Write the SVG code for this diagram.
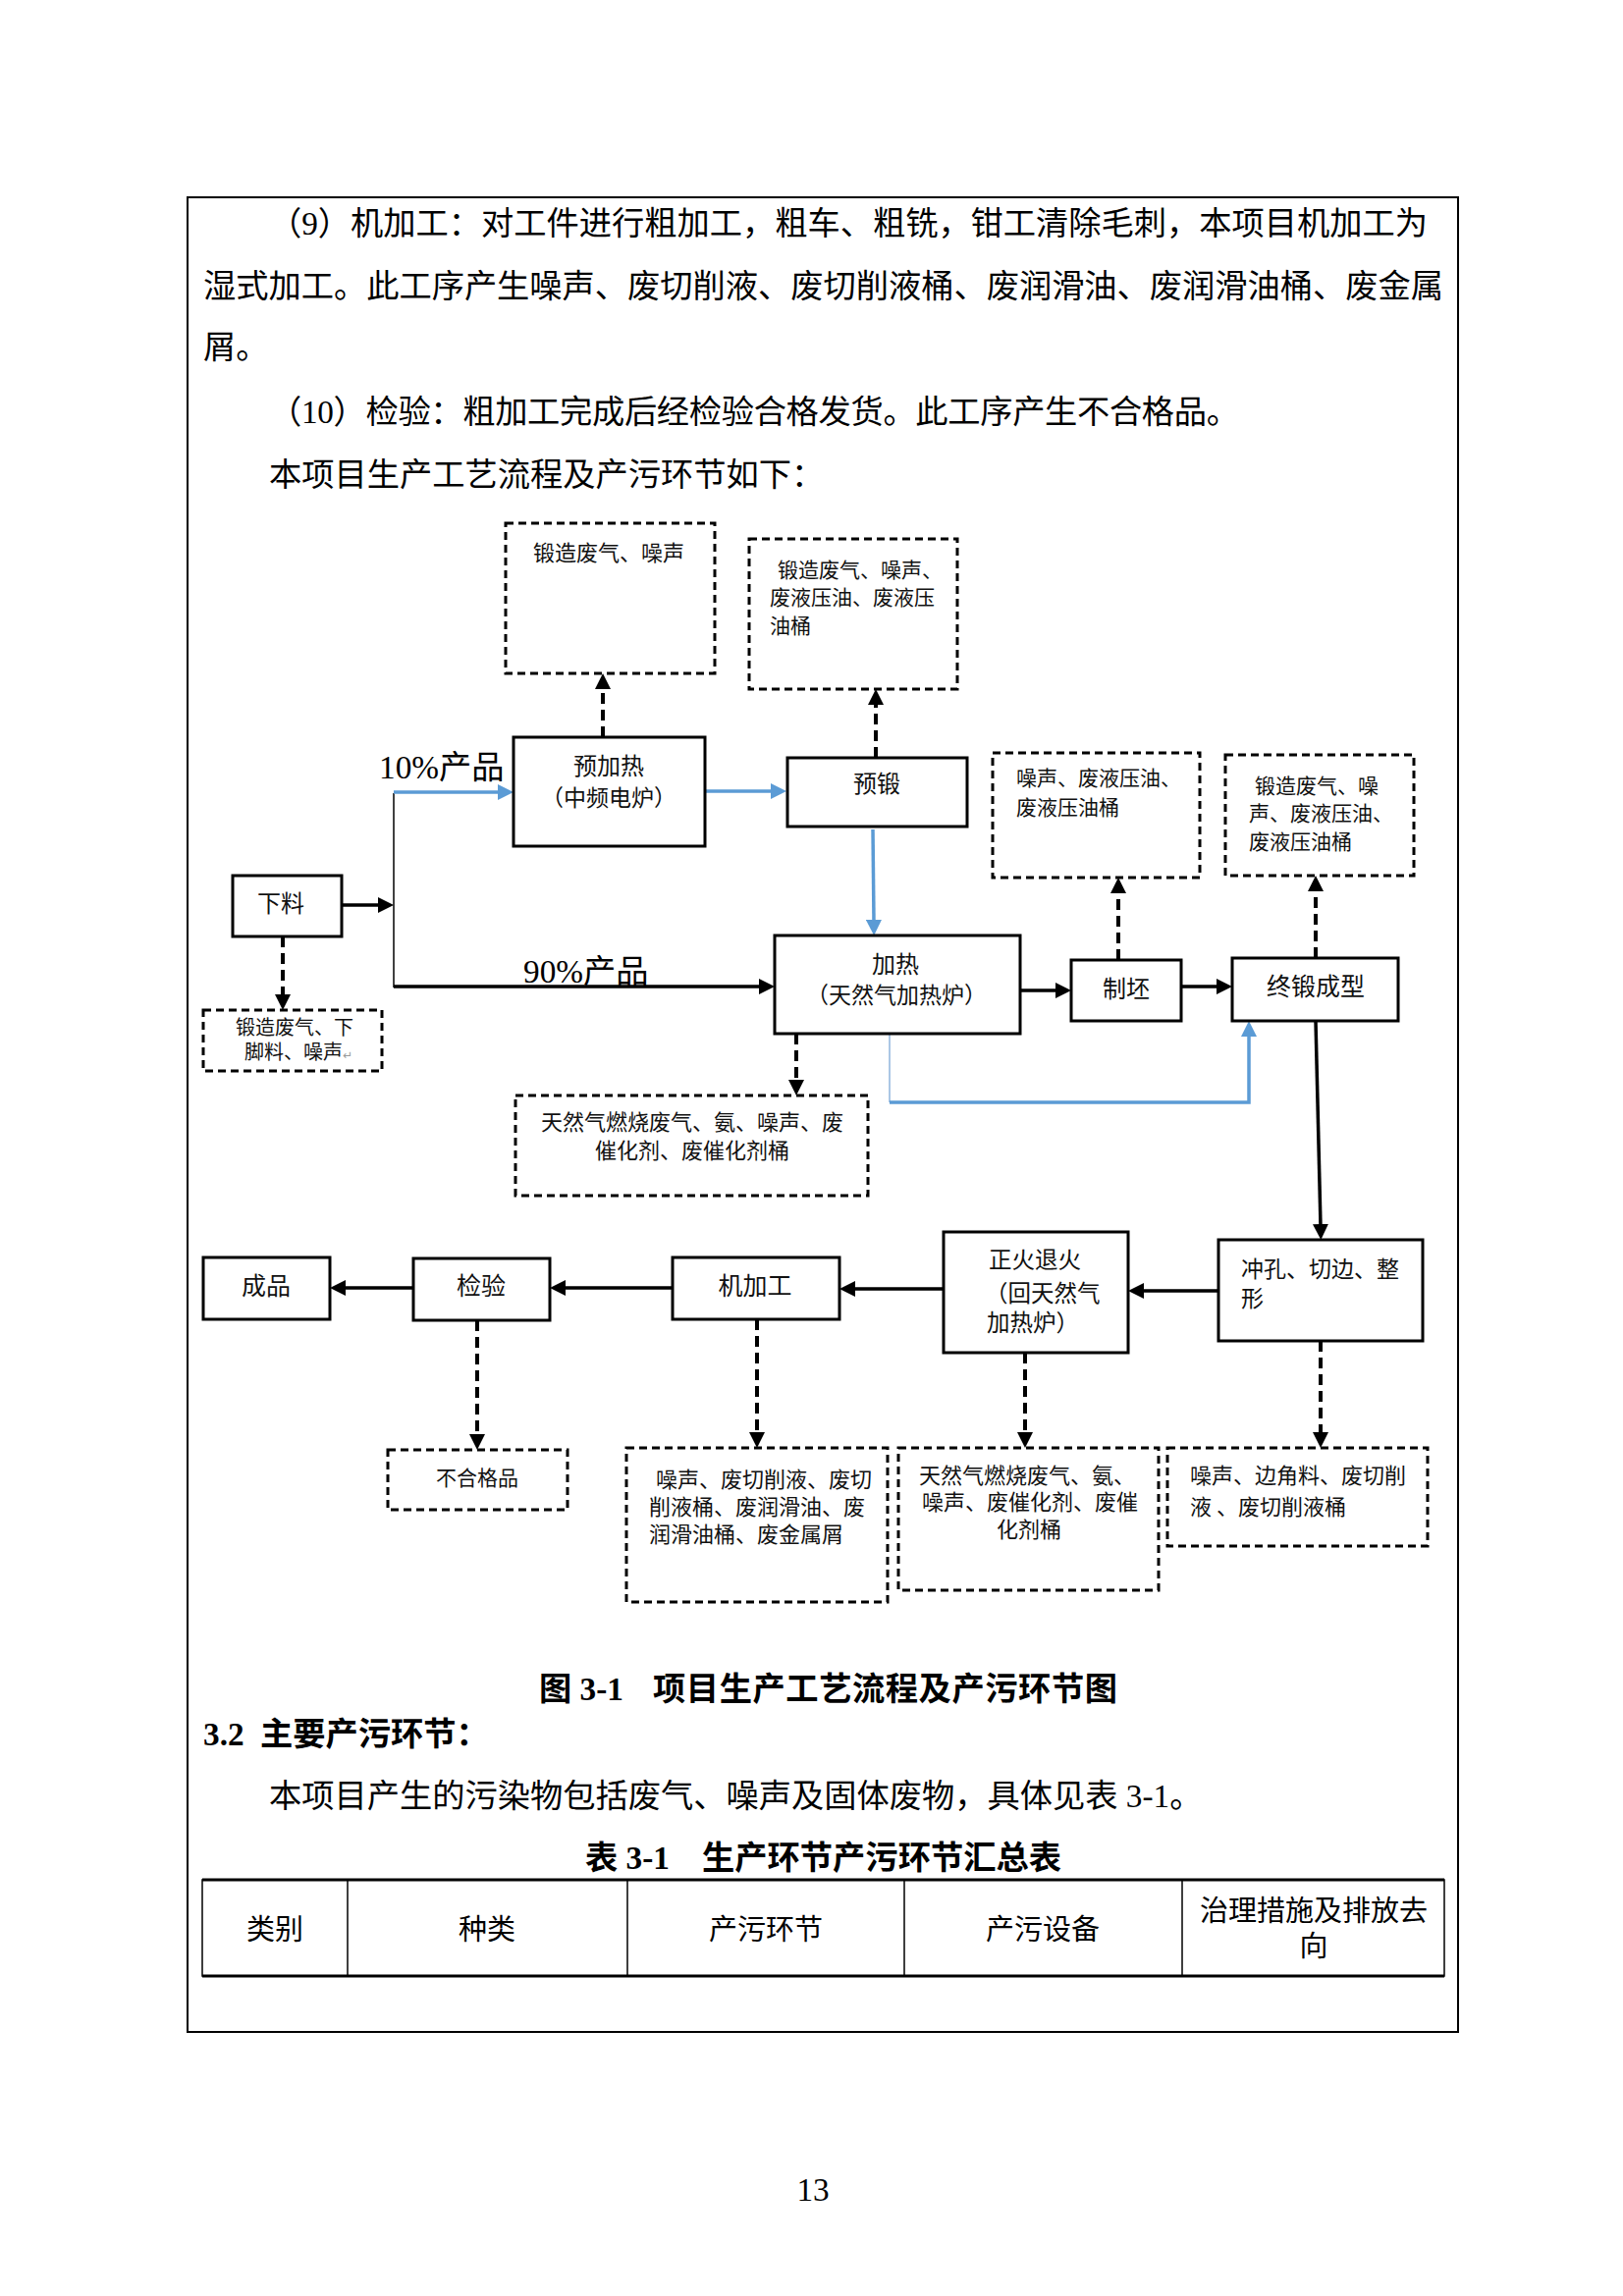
<svg xmlns="http://www.w3.org/2000/svg" width="1653" height="2339" viewBox="0 0 1653 2339">
<style>
.t{font-family:"Liberation Serif","Noto Sans CJK SC",serif;font-size:33.25px;fill:#000}
.b{font-weight:bold}
.h{font-family:"Liberation Serif","Noto Sans CJK SC",serif;font-size:29px;fill:#000}
.d{font-family:"Noto Sans CJK SC",sans-serif;fill:#111}
.box{fill:#fff;stroke:#000;stroke-width:3}
.dbox{fill:#fff;stroke:#000;stroke-width:3;stroke-dasharray:8 5}
.c{stroke:#000;stroke-width:3.5;fill:none}
.dl{stroke:#000;stroke-width:4;fill:none;stroke-dasharray:11 6}
.bl{stroke:#5B9BD5;stroke-width:3.5;fill:none}
.tl{stroke-width:1.5;fill:none}
</style>
<defs>
<marker id="ak" markerUnits="userSpaceOnUse" markerWidth="16" markerHeight="16" refX="2" refY="8" orient="auto"><path d="M0,0 L16,8 L0,16 z" fill="#000"/></marker>
<marker id="ab" markerUnits="userSpaceOnUse" markerWidth="16" markerHeight="16" refX="2" refY="8" orient="auto"><path d="M0,0 L16,8 L0,16 z" fill="#5B9BD5"/></marker>
</defs>
<rect width="1653" height="2339" fill="#fff"/>
<rect x="191" y="201" width="1294" height="1869" fill="none" stroke="#000" stroke-width="2"/>
<g id="body-text">
<text class="t" x="274" y="239" textLength="1180" lengthAdjust="spacing">（9）机加工：对工件进行粗加工，粗车、粗铣，钳工清除毛刺，本项目机加工为</text>
<text class="t" x="207" y="303" textLength="1263" lengthAdjust="spacing">湿式加工。此工序产生噪声、废切削液、废切削液桶、废润滑油、废润滑油桶、废金属</text>
<text class="t" x="207" y="365">屑。</text>
<text class="t" x="274" y="431" textLength="988" lengthAdjust="spacing">（10）检验：粗加工完成后经检验合格发货。此工序产生不合格品。</text>
<text class="t" x="274" y="495">本项目生产工艺流程及产污环节如下：</text>
</g>
<g id="connectors">
<line class="c" x1="348" y1="922" x2="387" y2="922" marker-end="url(#ak)"/>
<line class="c tl" x1="401" y1="808" x2="401" y2="1006"/>
<line class="bl" x1="401" y1="807" x2="509" y2="807" marker-end="url(#ab)"/>
<line class="bl" x1="718" y1="806" x2="787" y2="806" marker-end="url(#ab)"/>
<line class="bl" x1="889" y1="845" x2="890" y2="939" marker-end="url(#ab)"/>
<line class="c" x1="401" y1="1005" x2="775" y2="1005" stroke-width="4" marker-end="url(#ak)"/>
<line class="c" x1="1039" y1="1009" x2="1077" y2="1009" stroke-width="4" marker-end="url(#ak)"/>
<line class="c" x1="1203" y1="1005" x2="1241" y2="1005" marker-end="url(#ak)"/>
<line x1="906" y1="1053" x2="906" y2="1123" stroke="#8FB4DC" stroke-width="1.5"/>
<polyline class="bl" points="906,1123 1272,1123 1272,1054" marker-end="url(#ab)"/>
<line class="c" x1="1340" y1="1040" x2="1345" y2="1249" marker-end="url(#ak)"/>
<line class="c" x1="1241" y1="1315" x2="1163" y2="1315" marker-end="url(#ak)"/>
<line class="c" x1="961" y1="1313" x2="869" y2="1313" marker-end="url(#ak)"/>
<line class="c" x1="685" y1="1312" x2="574" y2="1312" marker-end="url(#ak)"/>
<line class="c" x1="421" y1="1312" x2="350" y2="1312" marker-end="url(#ak)"/>
<line class="dl" x1="614" y1="751" x2="614" y2="700" marker-end="url(#ak)"/>
<line class="dl" x1="892" y1="772" x2="892" y2="716" marker-end="url(#ak)"/>
<line class="dl" x1="288" y1="954" x2="288" y2="1015" marker-end="url(#ak)"/>
<line class="dl" x1="811" y1="1053" x2="811" y2="1102" marker-end="url(#ak)"/>
<line class="dl" x1="1139" y1="978" x2="1139" y2="908" marker-end="url(#ak)"/>
<line class="dl" x1="1340" y1="976" x2="1340" y2="906" marker-end="url(#ak)"/>
<line class="dl" x1="486" y1="1345" x2="486" y2="1463" marker-end="url(#ak)"/>
<line class="dl" x1="771" y1="1344" x2="771" y2="1461" marker-end="url(#ak)"/>
<line class="dl" x1="1044" y1="1378" x2="1044" y2="1461" marker-end="url(#ak)"/>
<line class="dl" x1="1345" y1="1366" x2="1345" y2="1461" marker-end="url(#ak)"/>
<text class="t" x="386" y="793" font-size="31">10%产品</text>
<text class="t" x="533" y="1001" font-size="32">90%产品</text>
</g>
<g id="n-yujiare-out">
<rect class="dbox" x="515" y="533" width="213" height="153"/>
<text class="d" x="543" y="571" font-size="22">锻造废气、噪声</text>
</g>
<g id="n-yuduan-out">
<rect class="dbox" x="763" y="549" width="212" height="153"/>
<text class="d" font-size="21"><tspan x="792" y="588">锻造废气、噪声、</tspan><tspan x="784" y="616">废液压油、废液压</tspan><tspan x="784" y="645">油桶</tspan></text>
</g>
<g id="n-yujiare">
<rect class="box" x="523" y="751" width="195" height="111"/>
<text class="d" text-anchor="middle" font-size="24"><tspan x="620" y="789">预加热</tspan><tspan x="620" y="821" font-size="23">（中频电炉）</tspan></text>
</g>
<g id="n-yuduan">
<rect class="box" x="802" y="772" width="183" height="70"/>
<text class="d" x="893" y="807" text-anchor="middle" font-size="24">预锻</text>
</g>
<g id="n-zhipi-out">
<rect class="dbox" x="1011" y="767" width="211" height="127"/>
<text class="d" font-size="21"><tspan x="1035" y="800">噪声、废液压油、</tspan><tspan x="1035" y="830">废液压油桶</tspan></text>
</g>
<g id="n-zhongduan-out">
<rect class="dbox" x="1248" y="769" width="192" height="123"/>
<text class="d" font-size="21"><tspan x="1278" y="808">锻造废气、噪</tspan><tspan x="1272" y="836">声、废液压油、</tspan><tspan x="1272" y="865">废液压油桶</tspan></text>
</g>
<g id="n-xialiao">
<rect class="box" x="237" y="892" width="111" height="62"/>
<text class="d" x="286" y="929" text-anchor="middle" font-size="24">下料</text>
</g>
<g id="n-xialiao-out">
<rect class="dbox" x="207" y="1029" width="182" height="62"/>
<text class="d" font-size="20"><tspan x="240" y="1054">锻造废气、下</tspan><tspan x="249" y="1079">脚料、噪声<tspan font-family="DejaVu Sans" font-size="12" fill="#999">↵</tspan></tspan></text>
</g>
<g id="n-jiare">
<rect class="box" x="789" y="953" width="250" height="100"/>
<text class="d" text-anchor="middle" font-size="23"><tspan x="912" y="991" font-size="24">加热</tspan><tspan x="913" y="1022">（天然气加热炉）</tspan></text>
</g>
<g id="n-jiare-out">
<rect class="dbox" x="525" y="1116" width="359" height="102"/>
<text class="d" text-anchor="middle" font-size="22"><tspan x="705" y="1151">天然气燃烧废气、氨、噪声、废</tspan><tspan x="705" y="1180">催化剂、废催化剂桶</tspan></text>
</g>
<g id="n-zhipi">
<rect class="box" x="1091" y="978" width="112" height="62"/>
<text class="d" x="1147" y="1016" text-anchor="middle" font-size="24">制坯</text>
</g>
<g id="n-zhongduan">
<rect class="box" x="1255" y="976" width="169" height="64"/>
<text class="d" x="1340" y="1014" text-anchor="middle" font-size="25">终锻成型</text>
</g>
<g id="n-chongkong">
<rect class="box" x="1241" y="1263" width="208" height="103"/>
<text class="d" font-size="23"><tspan x="1264" y="1301">冲孔、切边、整</tspan><tspan x="1264" y="1331">形</tspan></text>
</g>
<g id="n-zhenghuo">
<rect class="box" x="961" y="1255" width="188" height="123"/>
<text class="d" font-size="23.5"><tspan x="1007" y="1292">正火退火</tspan><tspan x="1003" y="1326">（回天然气</tspan><tspan x="1005" y="1356">加热炉）</tspan></text>
</g>
<g id="n-jijiagong">
<rect class="box" x="685" y="1281" width="170" height="63"/>
<text class="d" x="769" y="1319" text-anchor="middle" font-size="25">机加工</text>
</g>
<g id="n-jianyan">
<rect class="box" x="421" y="1282" width="139" height="63"/>
<text class="d" x="490" y="1319" text-anchor="middle" font-size="25">检验</text>
</g>
<g id="n-chengpin">
<rect class="box" x="207" y="1281" width="129" height="63"/>
<text class="d" x="271" y="1319" text-anchor="middle" font-size="25">成品</text>
</g>
<g id="n-buhege">
<rect class="dbox" x="395" y="1477" width="183" height="61"/>
<text class="d" x="486" y="1513" text-anchor="middle" font-size="21">不合格品</text>
</g>
<g id="n-jijiagong-out">
<rect class="dbox" x="638" y="1475" width="266" height="157"/>
<text class="d" font-size="22"><tspan x="668" y="1515">噪声、废切削液、废切</tspan><tspan x="661" y="1543">削液桶、废润滑油、废</tspan><tspan x="661" y="1571">润滑油桶、废金属屑</tspan></text>
</g>
<g id="n-zhenghuo-out">
<rect class="dbox" x="915" y="1475" width="265" height="145"/>
<text class="d" text-anchor="middle" font-size="22"><tspan x="1046" y="1511">天然气燃烧废气、氨、</tspan><tspan x="1049" y="1538">噪声、废催化剂、废催</tspan><tspan x="1048" y="1566">化剂桶</tspan></text>
</g>
<g id="n-chongkong-out">
<rect class="dbox" x="1189" y="1475" width="265" height="100"/>
<text class="d" font-size="22"><tspan x="1212" y="1511">噪声、边角料、废切削</tspan><tspan x="1212" y="1543">液 、废切削液桶</tspan></text>
</g>
<g id="lower-text">
<text class="t b" y="1732"><tspan x="549">图 3-1</tspan><tspan x="665" textLength="473" lengthAdjust="spacing">项目生产工艺流程及产污环节图</tspan></text>
<text class="t b" y="1778"><tspan x="207">3.2</tspan><tspan x="265">主要产污环节：</tspan></text>
<text class="t" x="274" y="1841">本项目产生的污染物包括废气、噪声及固体废物，具体见表 3-1。</text>
<text class="t b" y="1904"><tspan x="596">表 3-1</tspan><tspan x="715" textLength="366" lengthAdjust="spacing">生产环节产污环节汇总表</tspan></text>
</g>
<g id="table">
<rect x="206" y="1915" width="1265" height="98" fill="none" stroke="#000" stroke-width="1.5"/>
<line x1="206" y1="1915" x2="1471" y2="1915" stroke="#000" stroke-width="3"/>
<line x1="206" y1="2013" x2="1471" y2="2013" stroke="#000" stroke-width="3"/>
<line x1="354" y1="1915" x2="354" y2="2013" stroke="#000" stroke-width="1.5"/>
<line x1="639" y1="1915" x2="639" y2="2013" stroke="#000" stroke-width="1.5"/>
<line x1="921" y1="1915" x2="921" y2="2013" stroke="#000" stroke-width="1.5"/>
<line x1="1204" y1="1915" x2="1204" y2="2013" stroke="#000" stroke-width="1.5"/>
<text class="h" text-anchor="middle" y="1976"><tspan x="280">类别</tspan><tspan x="496">种类</tspan><tspan x="780">产污环节</tspan><tspan x="1062">产污设备</tspan></text>
<text class="h" text-anchor="middle"><tspan x="1338" y="1957">治理措施及排放去</tspan><tspan x="1338" y="1993">向</tspan></text>
</g>
<text class="t" x="828" y="2242" text-anchor="middle" font-size="24">13</text>
</svg>
